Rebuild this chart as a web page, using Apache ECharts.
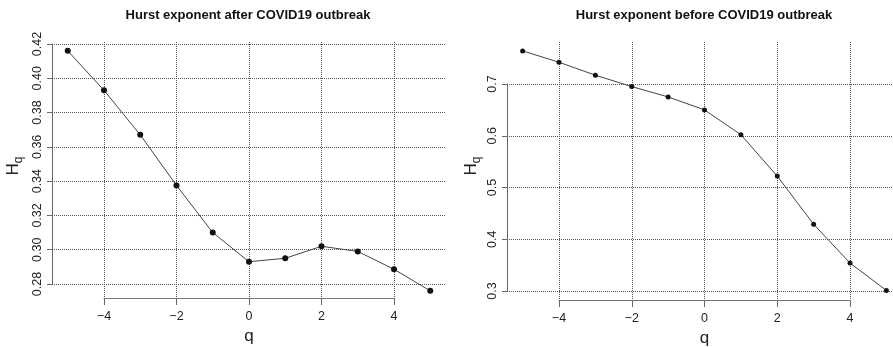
<!DOCTYPE html>
<html>
<head>
<meta charset="utf-8">
<script src="https://cdn.jsdelivr.net/npm/echarts@6/dist/echarts.min.js"></script>
<style>
  html, body { margin: 0; padding: 0; background: #fff; }
  #chart { width: 893px; height: 347px; }
</style>
</head>
<body>
<div id="chart"></div>
<script>
// q values and the two Hurst exponent curves
var qValues = [-5, -4, -3, -2, -1, 0, 1, 2, 3, 4, 5]
var hurstAfter = [0.416, 0.393, 0.367, 0.3375, 0.310, 0.293, 0.295, 0.302, 0.299, 0.2886, 0.276]
var hurstBefore = [0.764, 0.742, 0.717, 0.695, 0.675, 0.650, 0.602, 0.522, 0.429, 0.354, 0.301]
var titles = ['Hurst exponent after COVID19 outbreak', 'Hurst exponent before COVID19 outbreak']

var FONT = 'Liberation Sans, Arial, sans-serif'
var gridLine = { show: true, lineStyle: { color: '#555', width: 1, type: [1, 1] } }

function pairs (ys) {
  return qValues.map(function (q, i) { return [q, ys[i]] })
}
function minus (v) {
  return v < 0 ? '\u2212' + Math.abs(v) : String(v)
}
// axis used only for mapping, nothing drawn
function hiddenAxis (gridIndex, min, max) {
  return {
    gridIndex: gridIndex, type: 'value', min: min, max: max, show: false,
    axisLine: { show: false }, axisTick: { show: false },
    axisLabel: { show: false }, splitLine: { show: false }
  }
}
function qAxis (gridIndex) {
  return {
    gridIndex: gridIndex, type: 'value', min: -4, max: 4, interval: 2,
    position: 'bottom',
    name: 'q', nameLocation: 'middle', nameGap: 30,
    nameTextStyle: { fontSize: 17, color: '#222', fontFamily: FONT },
    axisLine: { show: true, onZero: false, lineStyle: { color: '#777', width: 1 } },
    axisTick: { show: true, length: 7, lineStyle: { color: '#666', width: 1 } },
    axisLabel: { fontSize: 12.5, color: '#222', margin: 12, formatter: minus },
    splitLine: gridLine
  }
}
function hAxis (gridIndex, min, max, step, digits) {
  return {
    gridIndex: gridIndex, type: 'value', min: min, max: max, interval: step,
    axisLine: { show: true, onZero: false, lineStyle: { color: '#666', width: 1 } },
    axisTick: { show: true, length: 5, lineStyle: { color: '#666' } },
    axisLabel: { fontSize: 12.5, color: '#222', rotate: 90, margin: 8,
      formatter: function (v) { return v.toFixed(digits) } },
    splitLine: gridLine
  }
}
function hqLabel (x) {
  return {
    type: 'text', x: x, y: 166, rotation: Math.PI / 2,
    style: { text: '{h|H}{q|q}', align: 'center', verticalAlign: 'middle',
      rich: {
        h: { fontSize: 17, lineHeight: 17, padding: [0, 0, 6, 0], fill: '#222', fontFamily: FONT },
        q: { fontSize: 12, lineHeight: 12, verticalAlign: 'bottom', fill: '#222', fontFamily: FONT }
      } }
  }
}

var chart = echarts.init(document.getElementById('chart'), null, { renderer: 'canvas' })
chart.setOption({
  backgroundColor: '#fff',
  animation: false,
  textStyle: { fontFamily: FONT },
  title: [
    { text: titles[0], left: 248, top: 9, textAlign: 'center', padding: 0,
      textStyle: { fontSize: 13, fontWeight: 'bold', color: '#111', fontFamily: FONT } },
    { text: titles[1], left: 704, top: 9, textAlign: 'center', padding: 0,
      textStyle: { fontSize: 13, fontWeight: 'bold', color: '#111', fontFamily: FONT } }
  ],
  grid: [
    // 0: left panel, horizontal grid + y axis + series
    { left: 52, top: 44, width: 394, height: 240, outerBoundsMode: 'none' },
    // 1: left panel, vertical grid + x axis
    { left: 104, top: 42, width: 290, height: 256, outerBoundsMode: 'none' },
    // 2: right panel, horizontal grid + y axis + series
    { left: 507, top: 84, width: 386, height: 207, outerBoundsMode: 'none' },
    // 3: right panel, vertical grid + x axis
    { left: 559, top: 42, width: 291, height: 258, outerBoundsMode: 'none' }
  ],
  xAxis: [
    hiddenAxis(0, -5.434, 5.434),
    qAxis(1),
    hiddenAxis(2, -5.4296, 5.1821),
    qAxis(3)
  ],
  yAxis: [
    hAxis(0, 0.28, 0.42, 0.02, 2),
    hiddenAxis(1, 0.2718, 0.4212),
    hAxis(2, 0.3, 0.7, 0.1, 1),
    hiddenAxis(3, 0.282, 0.781)
  ],
  graphic: [hqLabel(16), hqLabel(474)],
  series: [
    { name: 'after', type: 'line', xAxisIndex: 0, yAxisIndex: 0, clip: false,
      data: pairs(hurstAfter), symbol: 'circle', symbolSize: 6,
      itemStyle: { color: '#111' }, lineStyle: { color: '#444', width: 1 } },
    { name: 'before', type: 'line', xAxisIndex: 2, yAxisIndex: 2, clip: false,
      data: pairs(hurstBefore), symbol: 'circle', symbolSize: 5,
      itemStyle: { color: '#111' }, lineStyle: { color: '#444', width: 1 } }
  ]
})
</script>
</body>
</html>
